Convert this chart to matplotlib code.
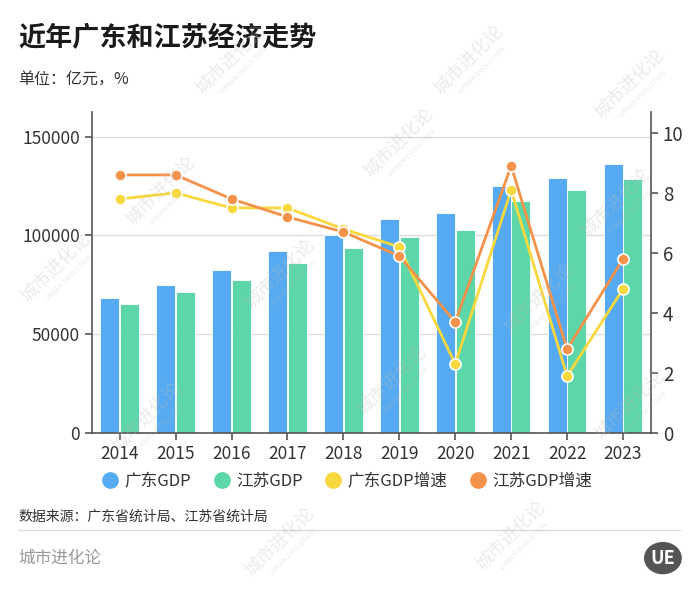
"""近年广东和江苏经济走势 柱线组合图."""

import matplotlib

matplotlib.use("Agg")
import matplotlib.pyplot as plt
from matplotlib.lines import Line2D
from matplotlib.patches import Circle
import numpy as np

plt.rcParams["font.family"] = ["Noto Sans CJK SC", "DejaVu Sans"]
plt.rcParams["axes.unicode_minus"] = False

years = ["2014", "2015", "2016", "2017", "2018", "2019", "2020", "2021", "2022", "2023"]
gd_gdp = [68500, 75100, 82600, 91900, 100100, 108300, 111300, 124900, 129300, 135900]
js_gdp = [65300, 71600, 77700, 86100, 93400, 99000, 103000, 117600, 123100, 128400]
gd_rate = [7.8, 8.0, 7.5, 7.5, 6.8, 6.2, 2.3, 8.1, 1.9, 4.8]
js_rate = [8.6, 8.6, 7.8, 7.2, 6.7, 5.9, 3.7, 8.9, 2.8, 5.8]
series_names = ["广东GDP", "江苏GDP", "广东GDP增速", "江苏GDP增速"]

BLUE = "#56AAF2"
GREEN = "#5DD6AA"
YELLOW = "#F8D83C"
ORANGE = "#F5924A"
AXIS = "#555555"

fig = plt.figure(figsize=(7, 5.95), dpi=100, facecolor="white")
ax = fig.add_axes([0.131, 0.272, 0.799, 0.540])
ax2 = ax.twinx()

x = np.arange(len(years))
w = 0.34
ax.bar(x - w / 2 - 0.005, gd_gdp, w, color=BLUE, edgecolor="white", linewidth=0.6, zorder=2)
ax.bar(x + w / 2 + 0.005, js_gdp, w, color=GREEN, edgecolor="white", linewidth=0.6, zorder=2)

ax.set_xlim(-0.5, len(years) - 0.5)
ax.set_ylim(0, 162500)
ax.set_yticks([0, 50000, 100000, 150000])
ax.yaxis.grid(True, color="#dddddd", linewidth=1, zorder=0)
ax.set_axisbelow(True)
ax.set_xticks(x)
ax.set_xticklabels(years)

ax2.plot(x, gd_rate, color=YELLOW, lw=2, marker="o", ms=8,
         mfc=YELLOW, mec="white", mew=1.2, zorder=3)
ax2.plot(x, js_rate, color=ORANGE, lw=2, marker="o", ms=8,
         mfc=ORANGE, mec="white", mew=1.2, zorder=3)
ax2.set_ylim(0, 10.7)
ax2.set_yticks([0, 2, 4, 6, 8, 10])

for a in (ax, ax2):
    a.spines["top"].set_visible(False)
    a.tick_params(labelsize=12.5, length=5, width=1.2)
    for s in ("left", "right", "bottom"):
        a.spines[s].set_color(AXIS)
        a.spines[s].set_linewidth(1.2)
ax.spines["right"].set_visible(False)
ax2.spines["left"].set_visible(False)
ax2.spines["bottom"].set_visible(False)
ax.tick_params(axis="both", colors=AXIS, labelcolor="#333333")
ax2.tick_params(axis="y", colors=AXIS, labelcolor="#333333", labelsize=13.5)

handles = [Line2D([], [], ls="", marker="o", ms=11, color=c)
           for c in (BLUE, GREEN, YELLOW, ORANGE)]
fig.legend(handles, series_names, loc="center", bbox_to_anchor=(0.497, 0.191),
           ncol=4, frameon=False, fontsize=12, handlelength=0.8,
           handletextpad=0.45, columnspacing=1.45, labelcolor="#333333")

fig.text(0.026, 0.935, "近年广东和江苏经济走势", fontsize=19.5, fontweight="bold",
         color="#1a1a1a", va="center")
fig.text(0.026, 0.865, "单位：亿元，%", fontsize=11.5, color="#333333", va="center")
fig.text(0.026, 0.131, "数据来源：广东省统计局、江苏省统计局", fontsize=10,
         color="#333333", va="center")
fig.add_artist(Line2D([0.026, 0.972], [0.110, 0.110], color="#dddddd", lw=1))
fig.text(0.026, 0.062, "城市进化论", fontsize=12, color="#999999", va="center")

logo = Circle((0.947, 0.062), 0.026, transform=fig.transFigure,
              color="#555555", zorder=5)
fig.add_artist(logo)
fig.text(0.947, 0.062, "UE", fontsize=13, fontweight="bold", color="white",
         ha="center", va="center", zorder=6)

# 水印
for wx, wy in [(0.33, 0.90), (0.67, 0.90), (0.90, 0.86),
               (0.23, 0.68), (0.57, 0.76), (0.88, 0.66), (0.08, 0.55),
               (0.40, 0.54), (0.77, 0.50), (0.21, 0.30), (0.56, 0.36),
               (0.90, 0.32), (0.40, 0.09), (0.73, 0.10)]:
    fig.text(wx, wy, "城市进化论", fontsize=13, color="#bbbbbb", alpha=0.3,
             rotation=45, ha="center", va="center", zorder=4)
    fig.text(wx + 0.018, wy - 0.018, "URBAN EVOLUTION", fontsize=5,
             color="#bbbbbb", alpha=0.3, rotation=45, ha="center",
             va="center", zorder=4)

fig.savefig("out.png", dpi=100, facecolor="white")
